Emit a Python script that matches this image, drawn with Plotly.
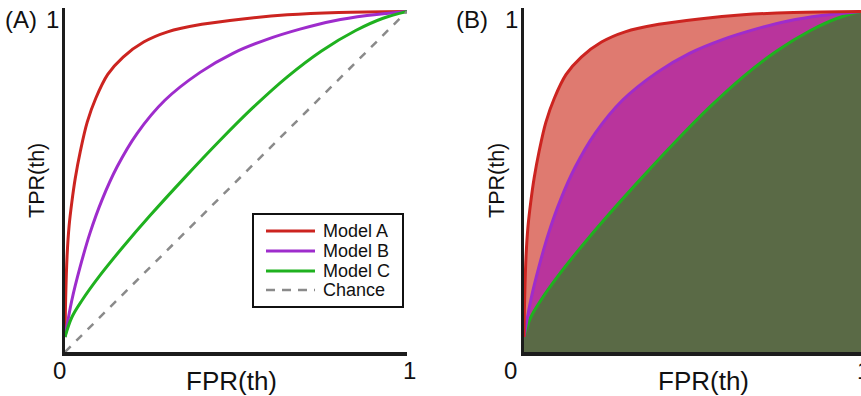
import plotly.graph_objects as go

W, H = 861, 396

# ---- data ----
model_a_fpr = [0, 0.002, 0.006, 0.012, 0.020, 0.030, 0.045, 0.065, 0.090, 0.125, 0.170, 0.230, 0.300, 0.400, 0.520, 0.650, 0.800, 1.0]
model_a_tpr = [0.044, 0.16, 0.28, 0.37, 0.44, 0.51, 0.59, 0.675, 0.745, 0.815, 0.866, 0.910, 0.940, 0.962, 0.978, 0.990, 0.997, 1.0]

model_b_fpr = [0, 0.020, 0.044, 0.073, 0.108, 0.152, 0.211, 0.292, 0.395, 0.491, 0.591, 0.687, 0.784, 0.883, 1.0]
model_b_tpr = [0.044, 0.152, 0.249, 0.349, 0.446, 0.543, 0.642, 0.739, 0.821, 0.877, 0.918, 0.948, 0.972, 0.988, 1.0]

model_c_fpr = [0, 0.02, 0.05, 0.10, 0.17, 0.25, 0.35, 0.45, 0.55, 0.65, 0.75, 0.85, 0.93, 1.0]
model_c_tpr = [0.044, 0.102, 0.152, 0.222, 0.309, 0.402, 0.512, 0.618, 0.718, 0.808, 0.884, 0.944, 0.980, 1.0]

chance_fpr = [0, 1]
chance_tpr = [0, 1]

series_names = ["Model A", "Model B", "Model C", "Chance"]
x_tick_labels = ["0", "1"]
y_tick_labels = ["1"]
x_title = "FPR(th)"
y_title = "TPR(th)"
panel_labels = ["(A)", "(B)"]

# ---- styles ----
FONT = "Liberation Sans, Arial, Helvetica, sans-serif"
RED, PURPLE, GREEN, GREY = "#cc2420", "#9e2ccc", "#1fb11f", "#8a8a8a"
RED_FILL, PURPLE_FILL, GREEN_FILL = "#df7a70", "#b9349c", "#5a6a46"
AXIS = "#1c1c1c"
SERIES_COLORS = [RED, PURPLE, GREEN, GREY]


def px(x):
    return x / W


def py(y):
    return 1 - y / H


spl = dict(width=3, shape="spline", smoothing=1.0)
fig = go.Figure()

# Panel A
curves = [(model_a_fpr, model_a_tpr), (model_b_fpr, model_b_tpr), (model_c_fpr, model_c_tpr)]
for (xs, ys), name, col in zip(curves, series_names[:3], SERIES_COLORS[:3]):
    fig.add_trace(go.Scatter(x=xs, y=ys, mode="lines", name=name,
                             line=dict(color=col, **spl),
                             xaxis="x", yaxis="y", showlegend=False))
fig.add_trace(go.Scatter(x=chance_fpr, y=chance_tpr, mode="lines", name=series_names[3],
                         line=dict(color=GREY, width=2.5, dash="8px,8px"),
                         xaxis="x", yaxis="y", showlegend=False))

# Panel B (filled areas)
fig.add_trace(go.Scatter(x=model_c_fpr, y=model_c_tpr, mode="lines", fill="tozeroy", name=series_names[2],
                         fillcolor=GREEN_FILL, line=dict(color=GREEN, **spl),
                         xaxis="x2", yaxis="y2", showlegend=False))
fig.add_trace(go.Scatter(x=model_b_fpr, y=model_b_tpr, mode="lines", fill="tonexty", name=series_names[1],
                         fillcolor=PURPLE_FILL, line=dict(color=PURPLE, **spl),
                         xaxis="x2", yaxis="y2", showlegend=False))
fig.add_trace(go.Scatter(x=model_a_fpr, y=model_a_tpr, mode="lines", fill="tonexty", name=series_names[0],
                         fillcolor=RED_FILL, line=dict(color=RED, **spl),
                         xaxis="x2", yaxis="y2", showlegend=False))

ydom = [py(352), py(8)]
axis_common = dict(showgrid=False, zeroline=False, showticklabels=False, ticks="",
                   showline=True, linecolor=AXIS, linewidth=3.5, fixedrange=True)
fig.update_layout(
    width=W, height=H,
    margin=dict(l=0, r=0, t=0, b=0),
    paper_bgcolor="white", plot_bgcolor="white",
    font=dict(family=FONT, color="#111"),
    xaxis=dict(domain=[px(65), px(407)], range=[0, 1.0], anchor="y", **axis_common),
    yaxis=dict(domain=ydom, range=[0, 1.01], anchor="x", **axis_common),
    xaxis2=dict(domain=[px(524), 1.0], range=[0, 1.0], anchor="y2", **axis_common),
    yaxis2=dict(domain=ydom, range=[0, 1.01], anchor="x2", **axis_common),
    showlegend=False,
    hovermode=False,
)

ann = []
shapes = []


def text(t, x, y, size=24, angle=0, xanchor="center"):
    ann.append(dict(text=t, x=px(x), y=py(y), xref="paper", yref="paper",
                    xanchor=xanchor, yanchor="middle", showarrow=False, textangle=angle,
                    font=dict(family=FONT, size=size, color="#111")))


for lab, xlab, xt0, xt1, yt1, xtit, ytit in [
        (panel_labels[0], 21, 59, 409, 52, 231, 37),
        (panel_labels[1], 472, 510, 863, 511, 703, 497)]:
    text(lab, xlab, 20)
    text(x_tick_labels[0], xt0, 370)
    text(x_tick_labels[1], xt1, 370)
    text(y_tick_labels[0], yt1, 20)
    text(x_title, xtit, 381, size=26)
    text(y_title, ytit, 181, size=21.5, angle=-90)

# legend box (panel A)
shapes.append(dict(type="rect", xref="paper", yref="paper",
                   x0=px(253), x1=px(403), y0=py(307), y1=py(214),
                   line=dict(color="#111", width=2), fillcolor="white", layer="above"))
rows = [231, 251, 271, 290]
for name, col, ry in zip(series_names, SERIES_COLORS, rows):
    shapes.append(dict(type="line", xref="paper", yref="paper",
                       x0=px(266), x1=px(315), y0=py(ry), y1=py(ry), layer="above",
                       line=dict(color=col, width=3 if col != GREY else 2.5,
                                 dash="solid" if col != GREY else "9px,7px")))
    text(name, 321, ry, size=18, xanchor="left")

fig.update_layout(annotations=ann, shapes=shapes)
fig.write_html("out.html", config={"displayModeBar": False, "staticPlot": True},
               post_script="document.body.style.margin='0';")
